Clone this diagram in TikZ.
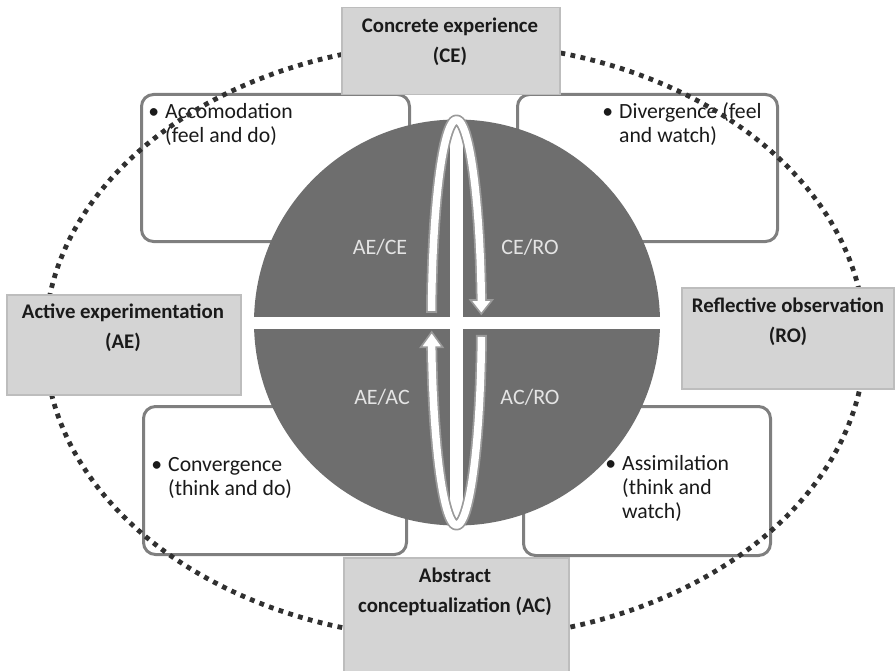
\documentclass[tikz,border=0pt]{standalone}
\usepackage{fontspec}
\setmainfont{Carlito}
\definecolor{boxfill}{HTML}{D4D4D4}
\definecolor{boxline}{HTML}{BDBDBD}
\definecolor{roundline}{HTML}{7F7F7F}
\definecolor{discgray}{HTML}{6E6E6E}
\definecolor{dotcol}{HTML}{303030}
\definecolor{txt}{HTML}{1A1A1A}
\definecolor{lbl}{HTML}{E4E4E4}
\definecolor{loopline}{HTML}{9A9A9A}
\begin{document}
\begin{tikzpicture}[x=1pt,y=-1pt,
  roundbox/.style={draw=roundline, line width=3pt, rounded corners=12pt, fill=white, inner sep=0pt, anchor=north west},
  graybox/.style={draw=boxline, line width=1.5pt, fill=boxfill, inner sep=0pt, anchor=north west},
  itemtext/.style={text=txt, align=left, anchor=base west, inner sep=0pt, font=\fontsize{21.7}{24}\selectfont},
  boxtext/.style={text=txt, align=center, inner sep=0pt, font=\fontsize{20.8}{30}\selectfont\bfseries},
  disclabel/.style={text=lbl, inner sep=0pt, font=\fontsize{22}{24}\selectfont},
  dotline/.style={draw=dotcol, line width=4.8pt, dash pattern=on 4.8pt off 5.4pt},
  loopouter/.style={draw=loopline, line width=11pt},
  loopinner/.style={draw=white, line width=7.5pt},
  loophead/.style={fill=white, draw=loopline, line width=1.6pt, line join=miter}
]
\useasboundingbox (0,0) rectangle (896,671);

% rounded boxes
\node[roundbox, minimum width=268pt, minimum height=147pt] (accbox) at (140,93) {};
\node[roundbox, minimum width=260pt, minimum height=147pt] (divbox) at (516,93) {};
\node[roundbox, minimum width=263pt, minimum height=148pt] (conbox) at (142,405) {};
\node[roundbox, minimum width=247pt, minimum height=149pt] (assbox) at (522,405) {};

% anchor base = baseline of the last line
\node[itemtext] (acctext) at (165,143) {\llap{•\hspace{6pt}}Accomodation\\(feel and do)};
\node[itemtext] (divtext) at (619,143) {\llap{•\hspace{6pt}}Divergence (feel\\and watch)};
\node[itemtext] (context) at (168,495) {\llap{•\hspace{6pt}}Convergence\\(think and do)};
\node[itemtext] (asstext) at (622,518) {\llap{•\hspace{6pt}}Assimilation\\(think and\\watch)};

% dotted ellipse
\draw[dotline] (455,341) ellipse [x radius=410, y radius=298];

% disc
\node[circle, fill=discgray, minimum size=406pt, inner sep=0pt] (disc) at (457,322.5) {};
\fill[white] (253,317) rectangle (662,329);
\fill[white] (450,118) rectangle (463,527);

\node[disclabel] (aece) at (380,247) {AE/CE};
\node[disclabel] (cero) at (530,247) {CE/RO};
\node[disclabel] (aeac) at (382,397) {AE/AC};
\node[disclabel] (acro) at (530,397) {AC/RO};

% loop arrows
\draw[loopouter] plot[domain=182.7:353.6, samples=90] ({456.5+25*cos(\x)},{322.5+202.5*sin(\x)});
\draw[loopouter] plot[domain=3.5:173, samples=90] ({456.5+25*cos(\x)},{322.5+202.5*sin(\x)});
\filldraw[loophead] (470.3,300) -- (492.3,300) -- (481.3,314) -- cycle;
\filldraw[loophead] (420.7,347.2) -- (442.7,347.2) -- (431.7,332) -- cycle;
\draw[loopinner] plot[domain=183.3:353.6, samples=90] ({456.5+25*cos(\x)},{322.5+202.5*sin(\x)}) -- (481.3,303);
\draw[loopinner] plot[domain=4.1:173, samples=90] ({456.5+25*cos(\x)},{322.5+202.5*sin(\x)}) -- (431.7,344);

% gray label boxes
\node[graybox, minimum width=218pt, minimum height=87pt] (ce) at (341,7) {};
\node[boxtext] (cetext) at (450,42) {Concrete experience\\(CE)};
\node[graybox, minimum width=234pt, minimum height=100pt] (ae) at (6,294) {};
\node[boxtext] (aetext) at (123,328) {Active experimentation\\(AE)};
\node[graybox, minimum width=212pt, minimum height=101pt] (ro) at (681,287) {};
\node[boxtext] (rotext) at (788,321.5) {Reflective observation\\(RO)};
\node[graybox, minimum width=225pt, minimum height=125pt] (ac) at (343,557) {};
\node[boxtext] (actext) at (455,591.5) {Abstract\\conceptualization (AC)};
\end{tikzpicture}
\end{document}
